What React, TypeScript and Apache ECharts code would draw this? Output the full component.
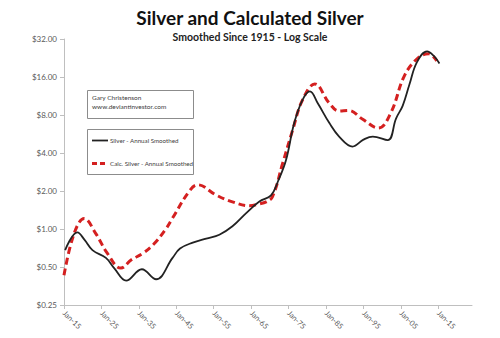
import React, { useEffect, useRef } from "react";
import * as echarts from "echarts";

const silverYears = [1915.3, 1918.6, 1920.5, 1922.6, 1926.2, 1928.4, 1931.6, 1935.8, 1939.6, 1944, 1946, 1949.4, 1953, 1956.5, 1960, 1963.6, 1967.2, 1970.3, 1972.2, 1974.3, 1976.5, 1978.7, 1980.7, 1982.8, 1985.9, 1988.5, 1992.1, 1995, 1997.5, 2001.5, 2003.7, 2005.5, 2007.3, 2009.3, 2012, 2013.8, 2015.3];
const silverValues = [0.68, 0.94, 0.82, 0.68, 0.59, 0.49, 0.39, 0.48, 0.4, 0.59, 0.7, 0.78, 0.84, 0.9, 1.05, 1.33, 1.65, 1.85, 2.4, 3.5, 6.9, 10.5, 12.3, 9.9, 6.9, 5.4, 4.5, 5.1, 5.4, 5.06, 7.5, 9.5, 14, 21, 25.5, 23.5, 20.5];

const calcYears = [1915, 1917.7, 1920.4, 1923.5, 1926.6, 1930.2, 1933, 1936, 1939, 1942.2, 1944, 1948.5, 1950.7, 1955.6, 1960, 1964.5, 1967.2, 1969, 1970.7, 1973.4, 1976.1, 1978.7, 1982, 1985.9, 1988.5, 1991, 1994.8, 1999, 2002.3, 2006, 2009.7, 2012.4, 2014.6];
const calcValues = [0.43, 0.92, 1.21, 0.92, 0.64, 0.49, 0.57, 0.64, 0.76, 1.0, 1.22, 2.0, 2.24, 1.86, 1.64, 1.53, 1.58, 1.64, 1.8, 3.3, 6.1, 10.5, 14.1, 9.9, 8.6, 8.7, 7.4, 6.3, 8.3, 16.5, 22.8, 24.4, 21.5];

const xTickYears = [1915, 1925, 1935, 1945, 1955, 1965, 1975, 1985, 1995, 2005, 2015];
const yTicks = [0.25, 0.5, 1, 2, 4, 8, 16, 32];

const titleText = "Silver and Calculated Silver";
const subtitleText = "Smoothed Since 1915 - Log Scale";
const seriesNames = ["Silver - Annual Smoothed", "Calc. Silver - Annual Smoothed"];
const noteLines = ["Gary Christenson", "www.deviantinvestor.com"];

const FONT = "Lato, 'Open Sans', sans-serif";

export default function App() {
  const ref = useRef<HTMLDivElement>(null);
  useEffect(() => {
    if (!ref.current) return;
    const chart = echarts.init(ref.current, null, { renderer: "svg" });
    const silverData = silverYears.map((y, i) => [y, silverValues[i]]);
    const calcData = calcYears.map((y, i) => [y, calcValues[i]]);
    chart.setOption({
      animation: false,
      backgroundColor: "#ffffff",
      textStyle: { fontFamily: FONT },
      title: {
        text: titleText,
        subtext: subtitleText,
        left: "center",
        top: 3,
        itemGap: 4,
        textStyle: { fontSize: 19, fontWeight: "bold", color: "#111", fontFamily: FONT },
        subtextStyle: { fontSize: 10.5, fontWeight: "bold", color: "#222", fontFamily: FONT },
      },
      grid: { left: 64, right: 28, top: 39, bottom: 33, containLabel: false },
      xAxis: {
        type: "value",
        min: 1915,
        max: 2024,
        splitLine: { show: false },
        axisLine: { lineStyle: { color: "#bfbfbf", width: 1 } },
        axisTick: { show: true, length: 4, lineStyle: { color: "#bfbfbf" }, customValues: xTickYears },
        axisLabel: {
          customValues: xTickYears,
          rotate: -45,
          fontSize: 7.5,
          color: "#595959",
          margin: 7,
          formatter: (v: number) => "Jan-" + String(Math.round(v) % 100).padStart(2, "0"),
        },
      },
      yAxis: {
        type: "log",
        logBase: 2,
        min: 0.25,
        max: 32,
        interval: 1,
        splitLine: { show: false },
        axisLine: { show: true, lineStyle: { color: "#bfbfbf", width: 1 } },
        axisTick: { show: true, length: 4, lineStyle: { color: "#bfbfbf" } },
        axisLabel: {
          fontSize: 8,
          color: "#595959",
          margin: 7,
          formatter: (v: number) => {
            const t = yTicks.find((k) => Math.abs(k - v) < 1e-6 * Math.max(1, v));
            return "$" + (t !== undefined ? t : v).toFixed(2);
          },
        },
      },
      series: [
        {
          name: seriesNames[0],
          type: "line",
          data: silverData,
          smooth: 0.4,
          showSymbol: false,
          lineStyle: { color: "#222222", width: 1.8 },
          z: 3,
        },
        {
          name: seriesNames[1],
          type: "line",
          data: calcData,
          smooth: 0.4,
          showSymbol: false,
          lineStyle: { color: "#d42020", width: 3, type: [7, 4] },
          z: 2,
        },
      ],
      graphic: [
        {
          type: "rect",
          shape: { x: 87.5, y: 90.5, width: 106, height: 28 },
          style: { fill: "#fff", stroke: "#8c8c8c", lineWidth: 1 },
          z: 10,
        },
        {
          type: "text",
          x: 92,
          y: 94,
          style: { text: noteLines[0], fontSize: 6.5, fill: "#404040", fontFamily: FONT },
          z: 11,
        },
        {
          type: "text",
          x: 92,
          y: 103,
          style: { text: noteLines[1], fontSize: 6.5, fill: "#404040", fontFamily: FONT },
          z: 11,
        },
        {
          type: "rect",
          shape: { x: 87.5, y: 129.5, width: 106, height: 45 },
          style: { fill: "#fff", stroke: "#8c8c8c", lineWidth: 1 },
          z: 10,
        },
        {
          type: "line",
          shape: { x1: 92, y1: 140.5, x2: 108, y2: 140.5 },
          style: { stroke: "#222222", lineWidth: 1.8 },
          z: 11,
        },
        {
          type: "text",
          x: 110,
          y: 137,
          style: { text: seriesNames[0], fontSize: 6.2, fill: "#404040", fontFamily: FONT },
          z: 11,
        },
        {
          type: "line",
          shape: { x1: 92, y1: 163.5, x2: 108, y2: 163.5 },
          style: { stroke: "#d42020", lineWidth: 3, lineDash: [5, 3] },
          z: 11,
        },
        {
          type: "text",
          x: 110,
          y: 160,
          style: { text: seriesNames[1], fontSize: 6.2, fill: "#404040", fontFamily: FONT },
          z: 11,
        },
      ],
    });
    return () => chart.dispose();
  }, []);
  return <div ref={ref} style={{ width: 500, height: 338, position: "absolute", left: 0, top: 0 }} />;
}
